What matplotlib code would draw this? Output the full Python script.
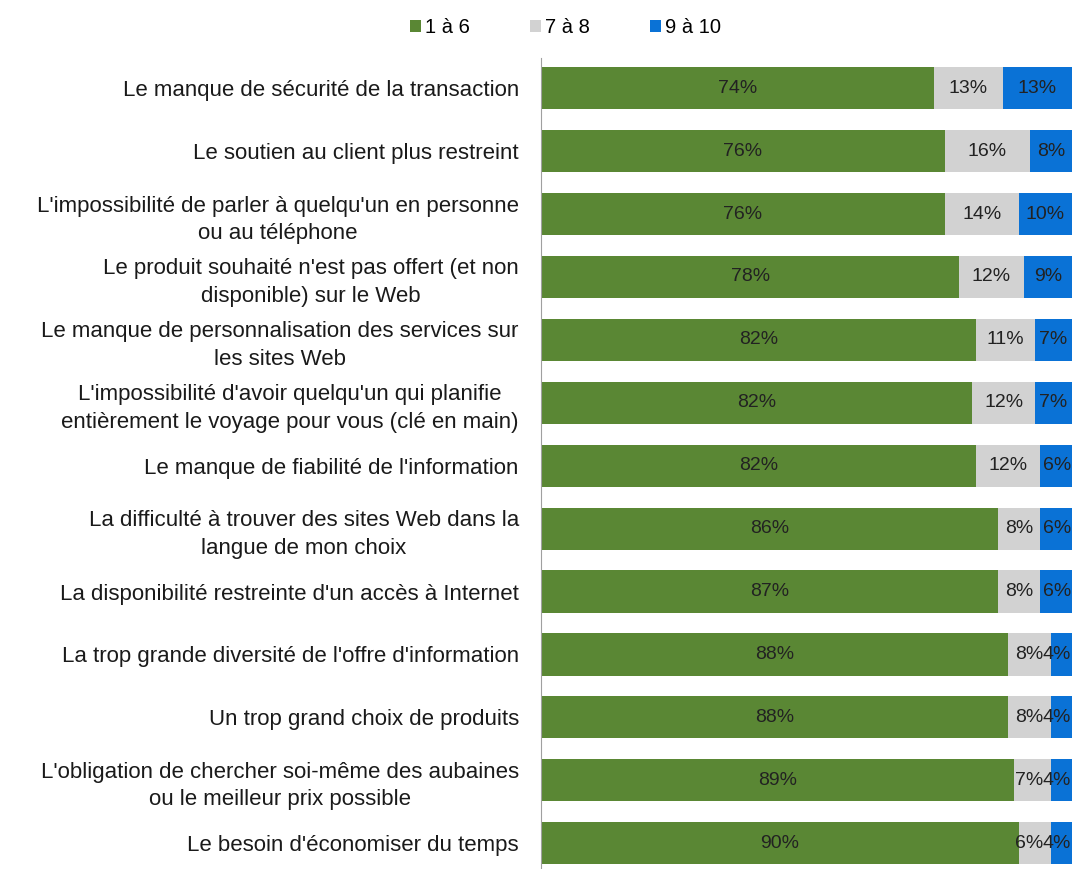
import numpy as np
from matplotlib import pyplot as plt

plt.rcParams['font.family'] = ['Liberation Sans', 'DejaVu Sans']

categories = [
    "Le manque de sécurité de la transaction",
    "Le soutien au client plus restreint",
    "L'impossibilité de parler à quelqu'un en personne\nou au téléphone",
    "Le produit souhaité n'est pas offert (et non\ndisponible) sur le Web",
    "Le manque de personnalisation des services sur\nles sites Web",
    "L'impossibilité d'avoir quelqu'un qui planifie\nentièrement le voyage pour vous (clé en main)",
    "Le manque de fiabilité de l'information",
    "La difficulté à trouver des sites Web dans la\nlangue de mon choix",
    "La disponibilité restreinte d'un accès à Internet",
    "La trop grande diversité de l'offre d'information",
    "Un trop grand choix de produits",
    "L'obligation de chercher soi-même des aubaines\nou le meilleur prix possible",
    "Le besoin d'économiser du temps",
]
low = [74, 76, 76, 78, 82, 82, 82, 86, 87, 88, 88, 89, 90]
mid = [13, 16, 14, 12, 11, 12, 12, 8, 8, 8, 8, 7, 6]
high = [13, 8, 10, 9, 7, 7, 6, 6, 6, 4, 4, 4, 4]
series_names = ["1 à 6", "7 à 8", "9 à 10"]
colors = ["#5a8734", "#d2d2d2", "#0a72d6"]

values = np.array([low, mid, high], dtype=float)
shares = values / values.sum(axis=0) * 100

fig = plt.figure(figsize=(10.73, 8.69), dpi=100)
ax = fig.add_axes([541 / 1073, 0.0, 531 / 1073, 811 / 869])

y = np.arange(len(categories))
left = np.zeros(len(categories))
for i, name in enumerate(series_names):
    ax.barh(y, shares[i], left=left, height=0.67, color=colors[i], label=name)
    for j in range(len(categories)):
        xc = left[j] + shares[i][j] / 2
        ha = 'center'
        # keep narrow labels at the right end inside the plot, side by side
        if i == 2 and shares[i][j] < 6.5:
            xc, ha = 99.8, 'right'
        elif i == 1 and mid[j] < 8 and shares[2][j] < 6.5:
            xc, ha = 99.8 - 5.2, 'right'
        ax.text(xc, y[j], f"{int(values[i][j])}%",
                ha=ha, va='center', fontsize=14, color='#222222')
    left += shares[i]

ax.set_xlim(0, 100)
ax.set_ylim(12.41, -0.48)
ax.set_yticks(y)
ax.set_yticklabels(categories, fontsize=16, color='#1a1a1a')
for lbl in ax.get_yticklabels():
    lbl.set_multialignment('center')
    lbl.set_linespacing(1.4)
ax.tick_params(axis='y', length=0, pad=16)
ax.set_xticks([])
for s in ['top', 'right', 'bottom']:
    ax.spines[s].set_visible(False)
ax.spines['left'].set_color('#a0a0a0')

fig.legend(loc='upper center', bbox_to_anchor=(0.527, 1.0), ncol=3, frameon=False,
           fontsize=14.5, handlelength=0.55, handleheight=0.55, handletextpad=0.2,
           columnspacing=3.0)

fig.savefig("out.png")
plt.close(fig)
